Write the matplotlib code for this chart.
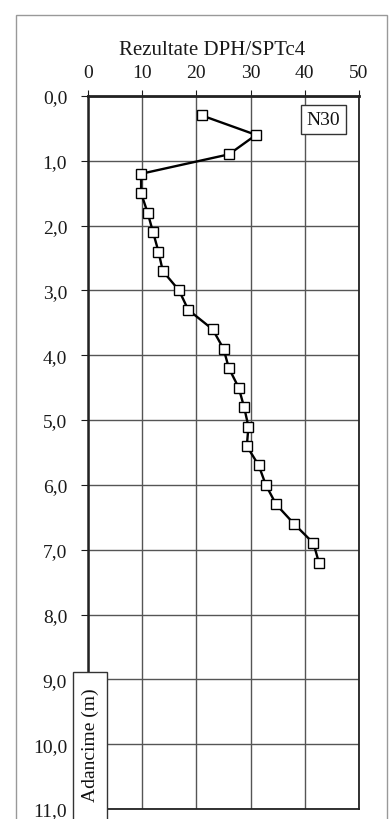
import matplotlib.pyplot as plt
from matplotlib.patches import Rectangle

# depth (m) and blow counts N30
depth = [0.3, 0.6, 0.9, 1.2, 1.5, 1.8, 2.1, 2.4, 2.7, 3.0, 3.3, 3.6,
         3.9, 4.2, 4.5, 4.8, 5.1, 5.4, 5.7, 6.0, 6.3, 6.6, 6.9, 7.2]
n30 = [21, 31, 26, 9.8, 9.8, 11, 12, 13, 13.8, 16.8, 18.5, 23,
       25, 26, 27.8, 28.8, 29.6, 29.3, 31.5, 32.8, 34.7, 38, 41.6, 42.6]

x_ticks = [0, 10, 20, 30, 40, 50]
y_ticks = [0, 1, 2, 3, 4, 5, 6, 7, 8, 9, 10, 11]
y_labels = ["0,0", "1,0", "2,0", "3,0", "4,0", "5,0", "6,0", "7,0",
            "8,0", "9,0", "10,0", "11,0"]

plt.rcParams['font.family'] = ['Liberation Serif', 'DejaVu Serif']

fig = plt.figure(figsize=(3.9, 8.2), dpi=100)
ax = fig.add_axes([0.2256, 0.0122, 0.695, 0.8695])

ax.plot(n30, depth, color="black", lw=1.7, marker="s", ms=7.5,
        mfc="white", mec="black", mew=1.0, zorder=3)

ax.set_xlim(0, 50)
ax.set_ylim(11, 0)
ax.set_xticks(x_ticks)
ax.set_yticks(y_ticks)
ax.set_yticklabels(y_labels)
ax.xaxis.tick_top()
ax.tick_params(axis="x", direction="out", length=4, pad=7, labelsize=14,
               colors="#1a1a1a")
ax.tick_params(axis="y", direction="out", length=5, pad=10, labelsize=14,
               colors="#1a1a1a")
ax.grid(True, color="#555555", lw=1.0)
ax.set_axisbelow(True)
for side, sp in ax.spines.items():
    sp.set_color("#222222")
    sp.set_linewidth(1.3)
ax.spines["top"].set_linewidth(2.0)
ax.spines["left"].set_linewidth(1.8)

fig.text(0.545, 0.938, "Rezultate DPH/SPTc4", ha="center", va="center",
         fontsize=15, color="#1a1a1a")

ax.text(43.4, 0.36, "N30", ha="center", va="center", fontsize=14,
        color="#111111",
        bbox=dict(boxstyle="square,pad=0.3", fc="white", ec="#333333", lw=1.0))

# depth label box at the bottom left
fig.patches.append(Rectangle((0.188, -0.01), 0.086, 0.189, transform=fig.transFigure,
                             fc="white", ec="#333333", lw=1.0, zorder=5))
fig.text(0.232, 0.091, "Adancime (m)", rotation=90, ha="center", va="center",
         fontsize=14, color="#111111", zorder=6)

# scanned page frame
fig.patches.append(Rectangle((0.042, -0.05), 0.95, 1.03, transform=fig.transFigure,
                             fill=False, ec="#999999", lw=1.0))

fig.savefig("out.png", dpi=100)
